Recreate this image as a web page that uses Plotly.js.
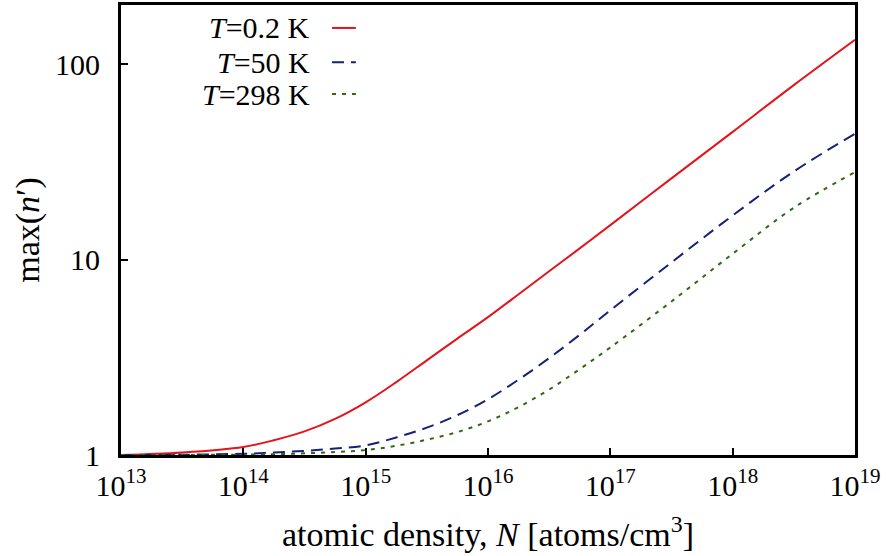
<!DOCTYPE html>
<html>
<head>
<meta charset="utf-8">
<script src="https://cdn.plot.ly/plotly-3.0.1.min.js"></script>
<style>html,body{margin:0;padding:0;background:#fff;}#chart{width:886px;height:556px;}</style>
</head>
<body>
<div id="chart"></div>
<script>
// atomic density N [atoms/cm^3]
const density = [1e13, 3.16e13, 1e14, 1.78e14, 3.16e14, 5.62e14, 1e15, 1.78e15, 3.16e15, 5.62e15,
                 1e16, 1.78e16, 3.16e16, 5.62e16, 1e17, 3.16e17, 1e18, 3.16e18, 1e19];
// max(n') for each temperature
const maxN_T02  = [1.00, 1.03, 1.10, 1.19, 1.32, 1.53, 1.86, 2.36, 3.05, 3.94,
                   5.07, 6.64, 8.71, 11.4, 15.0, 26.0, 45.0, 78.0, 133];
const maxN_T50  = [1.00, 1.003, 1.015, 1.03, 1.05, 1.08, 1.12, 1.23, 1.38, 1.60,
                   1.93, 2.43, 3.13, 4.12, 5.5, 9.66, 16.8, 28.2, 44];
const maxN_T298 = [1.00, 1.00, 1.005, 1.01, 1.02, 1.035, 1.06, 1.114, 1.197, 1.31,
                   1.486, 1.76, 2.16, 2.75, 3.55, 6.1, 10.7, 18.4, 28];
const seriesLabels = ['<i>T</i>=0.2 K', '<i>T</i>=50 K', '<i>T</i>=298 K'];
const xTickVals = [1e13, 1e14, 1e15, 1e16, 1e17, 1e18, 1e19];
const xTickText = ['10<sup>13</sup>', '10<sup>14</sup>', '10<sup>15</sup>', '10<sup>16</sup>',
                   '10<sup>17</sup>', '10<sup>18</sup>', '10<sup>19</sup>'];
const yTickVals = [1, 10, 100];
const yTickText = ['1', '10', '100'];

const colors = ['#e3141b', '#152277', '#2d6a12'];
const dashes = ['solid', '12px,7px', '4px,6px'];
const seriesY = [maxN_T02, maxN_T50, maxN_T298];

const FONT = '"Liberation Serif", "Times New Roman", serif';
const FS = 30;
const FT = 34;

const traces = seriesY.map((y, i) => ({
  x: density, y: y, type: 'scatter', mode: 'lines',
  line: {color: colors[i], width: 2, dash: dashes[i], shape: 'spline', smoothing: 1},
  name: seriesLabels[i], showlegend: false, hoverinfo: 'skip'
}));

// custom legend: text right-aligned, sample line to the right
const legX = 0.260, legY = [0.949, 0.873, 0.802];
const annotations = seriesLabels.map((t, i) => ({
  xref: 'paper', yref: 'paper', x: legX, y: legY[i], xanchor: 'right', yanchor: 'middle',
  text: t, showarrow: false, font: {family: FONT, size: FS, color: '#000'}
}));
const shapes = seriesLabels.map((t, i) => ({
  type: 'line', xref: 'paper', yref: 'paper', x0: 0.2875, x1: 0.320, y0: legY[i], y1: legY[i],
  line: {color: colors[i], width: 2, dash: dashes[i]}
}));

const layout = {
  width: 886, height: 556,
  margin: {l: 121, r: 31, t: 5, b: 101},
  paper_bgcolor: '#fff', plot_bgcolor: '#fff',
  font: {family: FONT, size: FS, color: '#000'},
  showlegend: false,
  xaxis: {
    type: 'log', range: [13, 19],
    tickmode: 'array', tickvals: xTickVals, ticktext: xTickText,
    ticks: 'inside', ticklen: 7, tickwidth: 2, tickcolor: '#000',
    showline: true, linewidth: 3, linecolor: '#000', mirror: true,
    showgrid: false, zeroline: false,
    ticklabelstandoff: 2,
    tickfont: {family: FONT, size: FS},
    title: {text: 'atomic density, <i>N</i> [atoms/cm<sup>3</sup>]', font: {family: FONT, size: FT}, standoff: 22}
  },
  yaxis: {
    type: 'log', range: [0, 2.302],
    tickmode: 'array', tickvals: yTickVals, ticktext: yTickText,
    ticks: 'inside', ticklen: 7, tickwidth: 2, tickcolor: '#000',
    showline: true, linewidth: 3, linecolor: '#000', mirror: true,
    showgrid: false, zeroline: false,
    ticklabelstandoff: 12,
    tickfont: {family: FONT, size: FS},
    title: {text: 'max(<i>n</i>′)', font: {family: FONT, size: FT}, standoff: 6}
  },
  annotations: annotations,
  shapes: shapes
};

Plotly.newPlot('chart', traces, layout, {staticPlot: true, displayModeBar: false});
</script>
</body>
</html>
